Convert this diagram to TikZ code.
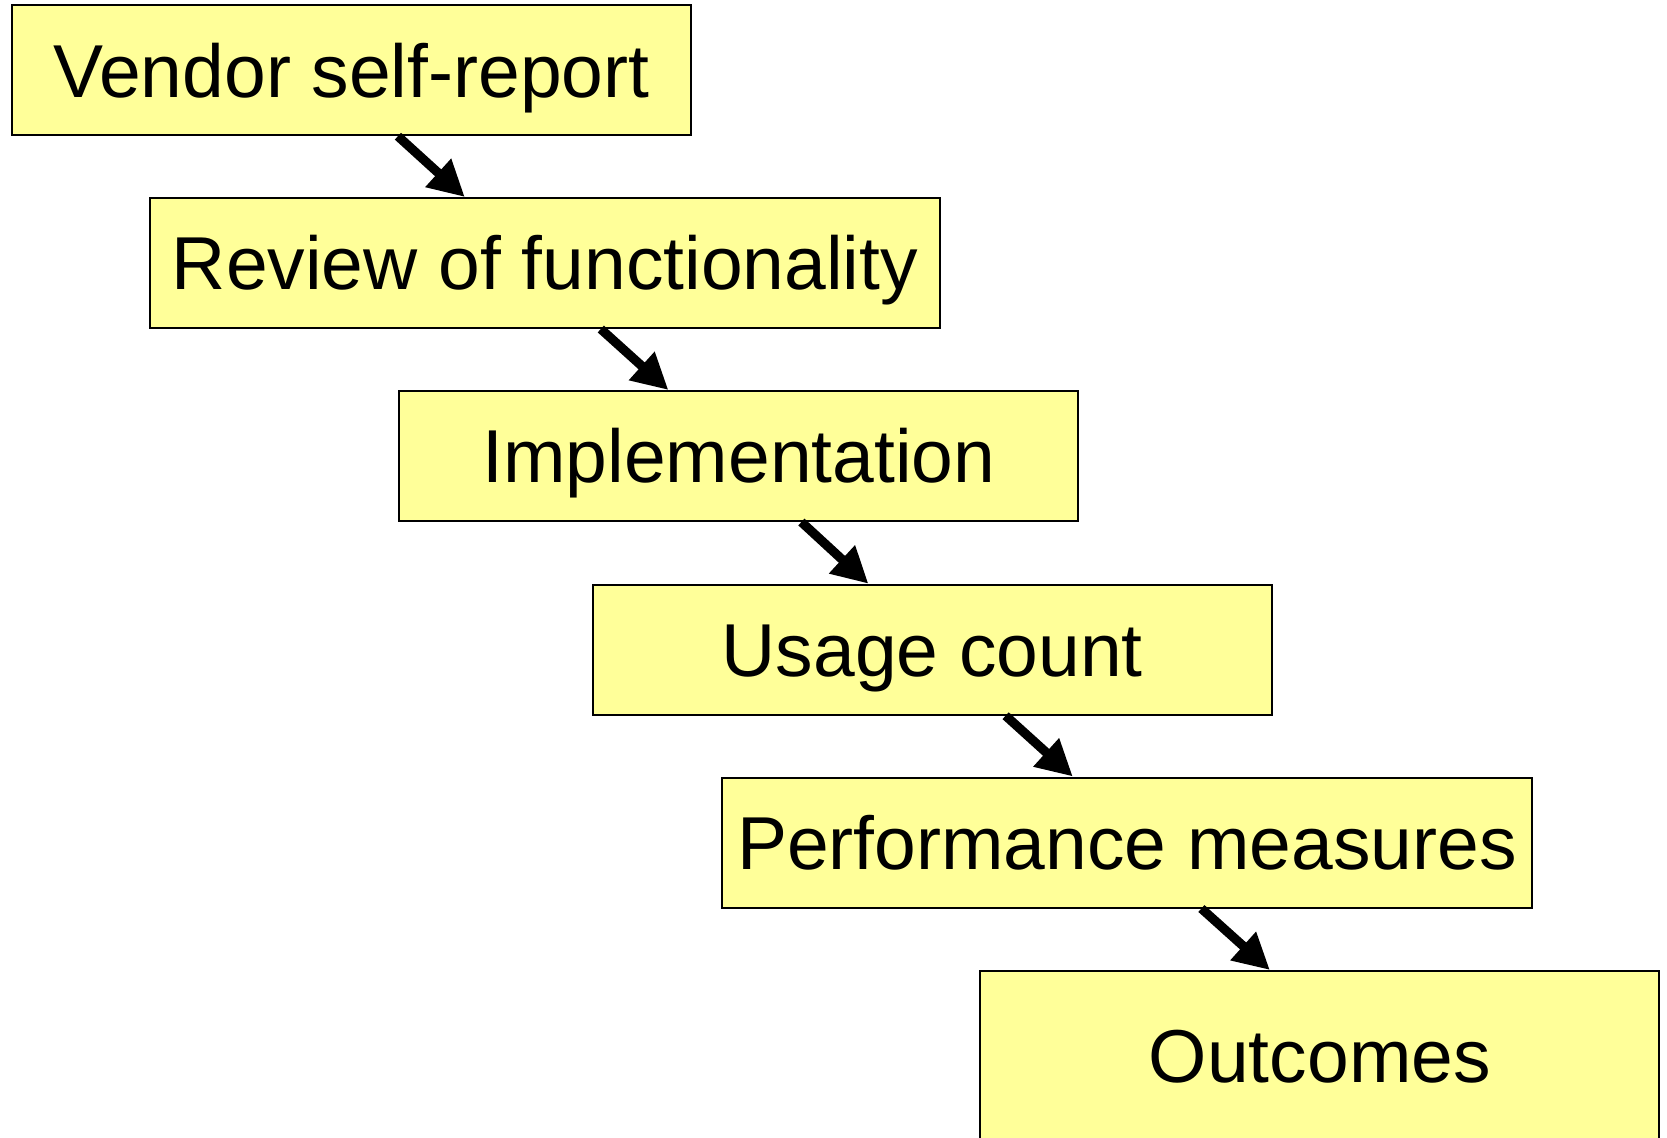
\documentclass[tikz,border=0pt]{standalone}
\usepackage{fontspec}
\setmainfont{Liberation Sans}
\usetikzlibrary{arrows.meta}
\definecolor{boxfill}{HTML}{FFFF99}
\begin{document}
\begin{tikzpicture}[x=0.5pt,y=-0.5pt,
  stepbox/.style={draw=black, line width=1pt, fill=boxfill, minimum height=65pt,
    inner sep=0pt, font=\fontsize{37.5}{45}\selectfont, text height=26.85pt, text depth=0pt},
  flow/.style={line width=4.6pt, -{Triangle[length=18pt,width=18pt]}}]
\clip (0,0) rectangle (1667,1137);
\fill[white] (0,0) rectangle (1667,1137);
\node[stepbox, minimum width=339.5pt] (b1) at (351.4,70.2) {Vendor self-report};
\node[stepbox, minimum width=395pt] (b2) at (545,263) {Review of functionality};
\node[stepbox, minimum width=339.5pt] (b3) at (738.9,456) {Implementation};
\node[stepbox, minimum width=339.5pt] (b4) at (932.3,649.7) {Usage count};
\node[stepbox, minimum width=405pt] (b5) at (1127,842.5) {Performance measures};
\node[stepbox, minimum width=339.5pt, minimum height=85pt] (b6) at (1319.8,1056) {Outcomes};
\draw[flow] ([xshift=193.5pt]b1.south west) -- ([xshift=157.9pt]b2.north west);
\draw[flow] ([xshift=225.9pt]b2.south west) -- ([xshift=135pt]b3.north west);
\draw[flow] ([xshift=201.5pt]b3.south west) -- ([xshift=138.3pt]b4.north west);
\draw[flow] ([xshift=206.9pt]b4.south west) -- ([xshift=175.9pt]b5.north west);
\draw[flow] ([xshift=240.2pt]b5.south west) -- ([xshift=145.3pt]b6.north west);
\end{tikzpicture}
\end{document}
